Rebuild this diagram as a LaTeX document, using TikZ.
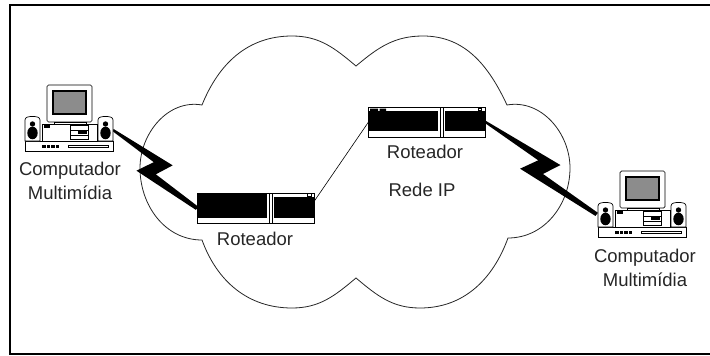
\documentclass[tikz,border=0pt]{standalone}
\usepackage{fontspec}
\setmainfont{Liberation Sans}
\usetikzlibrary{calc}

% Desktop multimedia computer, drawn around the origin
\newcommand\pcicon{%
  % monitor
  \draw[line width=0.7pt, fill=white, rounded corners=1.5pt] (-22,-4) rectangle (23,33);
  \draw[line width=1.3pt, fill=black!45] (-16,4) rectangle (17,27);
  % monitor foot
  \draw[line width=0.6pt, fill=white] (-15,-4) rectangle (17,-6.5);
  % system unit
  \draw[line width=0.7pt, fill=white] (-27,-6.5) rectangle (28,-23);
  \fill (-25,-7.2) rectangle (-19,-9.5);
  \draw[line width=0.5pt] (1,-7.5) rectangle (19,-21);
  \draw[line width=0.5pt] (1,-12) -- (19,-12) (1,-17) -- (19,-17);
  \fill (9,-13.2) rectangle (18,-16);
  % keyboard base
  \draw[line width=0.7pt, fill=white] (-44,-23) rectangle (44,-33);
  \foreach \k in {0,1,2,3} \fill ({-27+4.5*\k},-26.8) rectangle ++(3.5,-2.8);
  \draw[line width=0.5pt] (-1,-27) rectangle (39,-29.5);
  % speakers
  \foreach \sx in {-36.5,36.5} {
    \draw[line width=0.7pt, fill=white] (\sx-7.5,-23) -- (\sx-7.5,-2)
      to[out=90,in=180] (\sx,1.5) to[out=0,in=90] (\sx+7.5,-2) -- (\sx+7.5,-23) -- cycle;
    \fill (\sx,-6) circle (2.7);
    \fill (\sx,-15) ellipse (5.2 and 6.3);
  }
}

\begin{document}
\begin{tikzpicture}[x=1pt,y=1pt,
  labeltext/.style={font=\fontsize{18.5}{24}\selectfont, text=black!85, inner sep=0pt, align=center},
  router/.style={draw, line width=0.8pt, fill=white, minimum width=117pt, minimum height=30pt, inner sep=0pt, outer sep=0pt},
  pcbox/.style={minimum width=88pt, minimum height=66pt, inner sep=0pt},
  cloudline/.style={line width=0.8pt, black!85},
  link/.style={line width=0.6pt},
  frameline/.style={line width=2pt},
  bolt/.style={to path={
    ($(\tikztostart)!1.2pt!90:(\tikztotarget)$)
    -- ($(\tikztostart)!0.59!(\tikztotarget)!14.5pt!90:(\tikztotarget)$)
    -- ($(\tikztostart)!0.535!(\tikztotarget)!3.5pt!-90:(\tikztotarget)$)
    -- ($(\tikztotarget)!1.5pt!-90:(\tikztostart)$)
    -- ($(\tikztotarget)!2.5pt!90:(\tikztostart)$)
    -- ($(\tikztostart)!0.39!(\tikztotarget)!14pt!-90:(\tikztotarget)$)
    -- ($(\tikztostart)!0.45!(\tikztotarget)!4pt!90:(\tikztotarget)$)
    -- ($(\tikztostart)!1.2pt!-90:(\tikztotarget)$) -- cycle}}
]
\useasboundingbox (0,0) rectangle (710,-356);

% outer frame
\draw[frameline] (712,-5) -- (10,-5) -- (10,-354) -- (712,-354);

% IP network cloud
\draw[cloudline] (356,-66) to[out=40,in=180] (423,-36) to[out=0,in=115] (507,-105)
  to[out=10,in=90] (570,-168) to[out=-90,in=0] (508,-238)
  to[out=-110,in=0] (420,-308) to[out=180,in=-40] (356,-278)
  to[out=-140,in=0] (292,-308) to[out=180,in=-70] (202,-240)
  to[out=180,in=-90] (140,-168) to[out=90,in=170] (202,-105)
  to[out=68,in=180] (292,-36) to[out=0,in=140] (356,-66) -- cycle;

% nodes
\node[router] (r1) at (256,-208) {};
\node[router] (r2) at (427,-122) {};
\node[pcbox] (pc1) at (69,-118) {};
\node[pcbox] (pc2) at (642,-204) {};
\coordinate (pc1jack) at ($(pc1.center)+(44,-12)$);
\coordinate (pc2jack) at ($(pc2.center)+(-45,-10)$);

% links
\draw[link] (r1.7) -- (r2.west);
\fill (pc1jack) to[bolt] (r1.west);
\fill (r2.east) to[bolt] (pc2jack);

% router faces
\begin{scope}[shift={(r1.center)}]
  \fill (-57.6,-10) rectangle (11,14.6);
  \fill (18,-10) rectangle (57.6,11);
  \draw[line width=0.5pt] (12.8,-15) -- (12.8,15) (16.3,-15) -- (16.3,15);
  \draw[line width=0.5pt] (51,11.5) rectangle (55,14.5);
\end{scope}
\begin{scope}[shift={(r2.center)}]
  \fill (-57.6,-9) rectangle (11,11);
  \fill (-57,11) rectangle (-49,13.4) (-47.5,11) rectangle (-41,13.4);
  \fill (18,-9) rectangle (57.6,11);
  \draw[line width=0.5pt] (12.8,-15) -- (12.8,15) (16.3,-15) -- (16.3,15);
  \draw[line width=0.5pt] (51,11.5) rectangle (54.5,14);
\end{scope}

% computers
\begin{scope}[shift={(pc1.center)}] \pcicon \end{scope}
\begin{scope}[shift={(pc2.center)}] \pcicon \end{scope}

% labels
\node[labeltext] (pc1lbl) at (70,-181) {Computador\\Multimídia};
\node[labeltext] (pc2lbl) at (645,-268) {Computador\\Multimídia};
\node[labeltext] (r1lbl) at (255,-239) {Roteador};
\node[labeltext] (r2lbl) at (425,-152) {Roteador};
\node[labeltext] (netlbl) at (422,-190) {Rede IP};
\end{tikzpicture}
\end{document}
